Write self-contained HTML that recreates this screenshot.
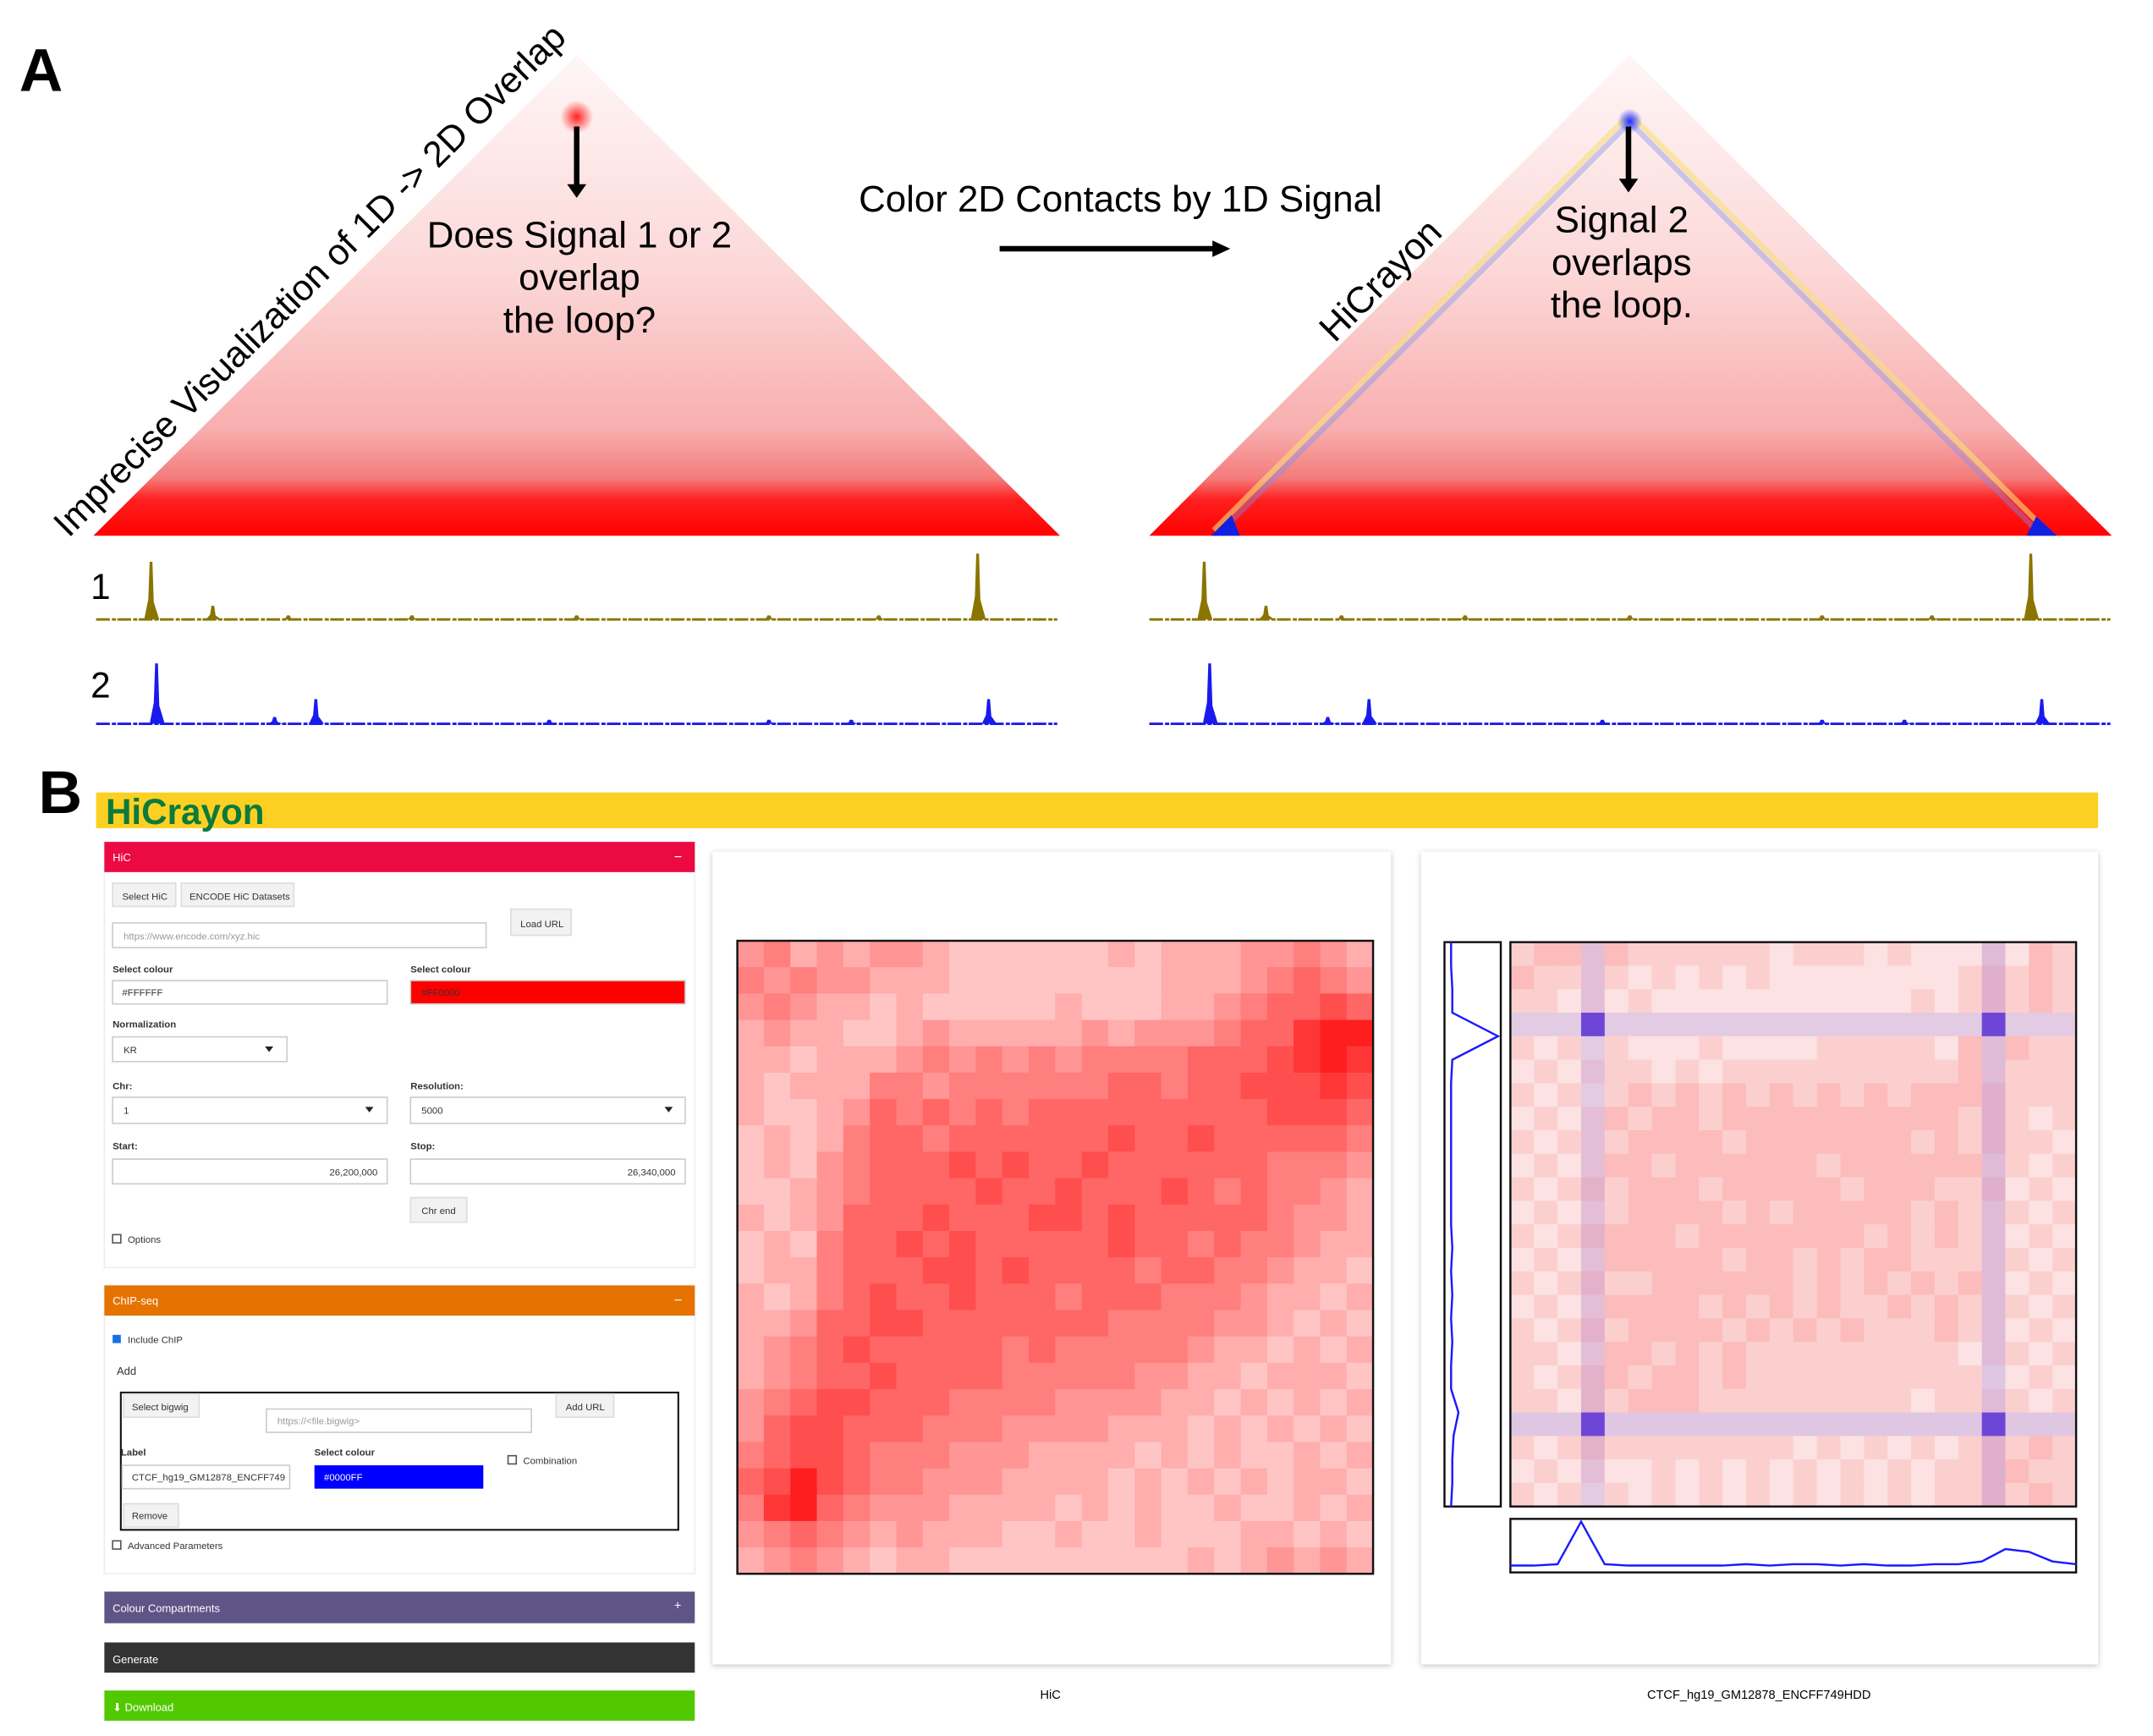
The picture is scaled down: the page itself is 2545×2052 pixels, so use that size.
<!DOCTYPE html>
<html><head><meta charset="utf-8"><style>
html,body{margin:0;padding:0;background:#fff}
svg{display:block;font-family:"Liberation Sans",sans-serif}
</style></head><body>
<svg id="fig" width="2545" height="2052" viewBox="0 0 1568 1264" xmlns="http://www.w3.org/2000/svg">
<defs>
<linearGradient id="tri" x1="0" y1="0" x2="0" y2="1">
<stop offset="0" stop-color="#fff6f6"/><stop offset="0.45" stop-color="#fcd8d8"/><stop offset="0.78" stop-color="#f8aeae"/><stop offset="0.88" stop-color="#f47c7c"/><stop offset="0.925" stop-color="#ff2020"/><stop offset="1" stop-color="#ff0000"/>
</linearGradient>
<radialGradient id="spotR"><stop offset="0" stop-color="#ff2020"/><stop offset="1" stop-color="#ff2020" stop-opacity="0"/></radialGradient>
<radialGradient id="spotB"><stop offset="0" stop-color="#2030ff"/><stop offset="1" stop-color="#2030ff" stop-opacity="0"/></radialGradient>
<filter id="sh" x="-5%" y="-5%" width="110%" height="110%"><feDropShadow dx="0" dy="1" stdDeviation="2" flood-opacity="0.25"/></filter>
</defs>

<!-- Panel A -->
<text x="14" y="66" font-size="44" font-weight="bold">A</text>
<polygon points="68,390 420,40 772,390" fill="url(#tri)"/>
<circle cx="420" cy="85" r="12" fill="url(#spotR)"/>
<text transform="translate(50,392) rotate(-45)" font-size="26.5">Imprecise Visualization of 1D -&gt; 2D Overlap</text>
<line x1="420" y1="92" x2="420" y2="138" stroke="#000" stroke-width="4"/>
<polygon points="413,134 427,134 420,144" fill="#000"/>
<g font-size="27" text-anchor="middle">
<text x="422" y="180">Does Signal 1 or 2</text><text x="422" y="211">overlap</text><text x="422" y="242">the loop?</text></g>
<text x="816" y="154" font-size="27" text-anchor="middle">Color 2D Contacts by 1D Signal</text>
<line x1="728" y1="181" x2="885" y2="181" stroke="#000" stroke-width="4"/>
<polygon points="883,175 896,181 883,187" fill="#000"/>

<polygon points="837,390 1187,40 1538,390" fill="url(#tri)"/>
<line x1="884" y1="386" x2="1184" y2="86" stroke="#f5e27a" stroke-width="4" opacity="0.6"/>
<line x1="889" y1="387" x2="1187" y2="89" stroke="#8090f0" stroke-width="4" opacity="0.4"/>
<line x1="1190" y1="86" x2="1490" y2="386" stroke="#f5e27a" stroke-width="4" opacity="0.6"/>
<line x1="1187" y1="89" x2="1484" y2="387" stroke="#8090f0" stroke-width="4" opacity="0.4"/>
<polygon points="882,390 897,375 903,390" fill="#1020e0"/>
<polygon points="1476,390 1483,376 1498,390" fill="#1020e0"/>
<circle cx="1187" cy="88" r="9" fill="url(#spotB)"/>
<text transform="translate(972,250) rotate(-45)" font-size="27">HiCrayon</text>
<line x1="1186" y1="92" x2="1186" y2="134" stroke="#000" stroke-width="4"/>
<polygon points="1179,130 1193,130 1186,140" fill="#000"/>
<g font-size="27" text-anchor="middle">
<text x="1181" y="169">Signal 2</text><text x="1181" y="200">overlaps</text><text x="1181" y="231">the loop.</text></g>

<text x="66" y="436" font-size="26">1</text>
<text x="66" y="508" font-size="26">2</text>
<g id="tracks"></g>

<!-- Panel B -->
<text x="28" y="592" font-size="44" font-weight="bold">B</text>
<rect x="70" y="577" width="1458" height="26" fill="#fcd022"/>
<text x="77" y="600" font-size="26" font-weight="bold" fill="#0b7a3c">HiCrayon</text>

<g font-size="7" fill="#333">
<rect x="76" y="613" width="430" height="310" fill="#fff" stroke="#eee"/>
<rect x="76" y="613" width="430" height="22" fill="#ec0a42"/>
<text x="82" y="627" fill="#fff" font-size="8">HiC</text><text x="491" y="627" fill="#fff" font-size="10">−</text>
<rect x="82" y="643" width="46" height="17" fill="#f2f2f2" stroke="#ddd"/><text x="89" y="655">Select HiC</text>
<rect x="132" y="643" width="82" height="17" fill="#f2f2f2" stroke="#ddd"/><text x="138" y="655">ENCODE HiC Datasets</text>
<rect x="82" y="672" width="272" height="18" fill="#fff" stroke="#ccc"/><text x="90" y="684" fill="#999">https://www.encode.com/xyz.hic</text>
<rect x="372" y="662" width="44" height="19" fill="#f2f2f2" stroke="#ddd"/><text x="379" y="675">Load URL</text>
<text x="82" y="708" font-weight="bold">Select colour</text><text x="299" y="708" font-weight="bold">Select colour</text>
<rect x="82" y="714" width="200" height="17" fill="#fff" stroke="#ccc"/><text x="89" y="725">#FFFFFF</text>
<rect x="299" y="714" width="200" height="17" fill="#ff0000" stroke="#ccc"/><text x="307" y="725">#FF0000</text>
<text x="82" y="748" font-weight="bold">Normalization</text>
<rect x="82" y="755" width="127" height="18" fill="#fff" stroke="#ccc"/><text x="90" y="767">KR</text><polygon points="193,762 199,762 196,766" fill="#222"/>
<text x="82" y="793" font-weight="bold">Chr:</text><text x="299" y="793" font-weight="bold">Resolution:</text>
<rect x="82" y="799" width="200" height="19" fill="#fff" stroke="#ccc"/><text x="90" y="811">1</text><polygon points="266,806 272,806 269,810" fill="#222"/>
<rect x="299" y="799" width="200" height="19" fill="#fff" stroke="#ccc"/><text x="307" y="811">5000</text><polygon points="484,806 490,806 487,810" fill="#222"/>
<text x="82" y="837" font-weight="bold">Start:</text><text x="299" y="837" font-weight="bold">Stop:</text>
<rect x="82" y="844" width="200" height="18" fill="#fff" stroke="#ccc"/><text x="275" y="856" text-anchor="end">26,200,000</text>
<rect x="299" y="844" width="200" height="18" fill="#fff" stroke="#ccc"/><text x="492" y="856" text-anchor="end">26,340,000</text>
<rect x="299" y="872" width="41" height="18" fill="#f2f2f2" stroke="#ddd"/><text x="307" y="884">Chr end</text>
<rect x="82" y="899" width="6" height="6" fill="#fff" stroke="#555"/><text x="93" y="905">Options</text>

<rect x="76" y="936" width="430" height="210" fill="#fff" stroke="#eee"/>
<rect x="76" y="936" width="430" height="22" fill="#e67200"/>
<text x="82" y="950" fill="#fff" font-size="8">ChIP-seq</text><text x="491" y="950" fill="#fff" font-size="10">−</text>
<rect x="82" y="972" width="6" height="6" fill="#1a6fe0"/><text x="93" y="978">Include ChIP</text>
<text x="85" y="1001" font-size="8">Add</text>
<rect x="88" y="1014" width="406" height="100" fill="#fff" stroke="#111" stroke-width="1.3"/>
<rect x="90" y="1015" width="55" height="17" fill="#f2f2f2" stroke="#ddd"/><text x="96" y="1027">Select bigwig</text>
<rect x="194" y="1026" width="193" height="17" fill="#fff" stroke="#ccc"/><text x="202" y="1037" fill="#999">https://&lt;file.bigwig&gt;</text>
<rect x="405" y="1015" width="42" height="17" fill="#f2f2f2" stroke="#ddd"/><text x="412" y="1027">Add URL</text>
<text x="88" y="1060" font-weight="bold">Label</text><text x="229" y="1060" font-weight="bold">Select colour</text>
<rect x="89" y="1067" width="122" height="17" fill="#fff" stroke="#ccc"/><text x="96" y="1078">CTCF_hg19_GM12878_ENCFF749</text>
<rect x="229" y="1067" width="123" height="17" fill="#0000ff"/><text x="236" y="1078" fill="#fff">#0000FF</text>
<rect x="370" y="1060" width="6" height="6" fill="#fff" stroke="#555"/><text x="381" y="1066">Combination</text>
<rect x="90" y="1095" width="40" height="17" fill="#f2f2f2" stroke="#ddd"/><text x="96" y="1106">Remove</text>
<rect x="82" y="1122" width="6" height="6" fill="#fff" stroke="#555"/><text x="93" y="1128">Advanced Parameters</text>

<rect x="76" y="1159" width="430" height="23" fill="#5e5485"/>
<text x="82" y="1174" fill="#fff" font-size="8">Colour Compartments</text><text x="491" y="1172" fill="#fff" font-size="9">+</text>
<rect x="76" y="1196" width="430" height="22" fill="#333"/>
<text x="82" y="1211" fill="#fff" font-size="8">Generate</text>
<rect x="76" y="1231" width="430" height="22" fill="#52c800"/>
<text x="82" y="1246" fill="#fff" font-size="8">⬇ Download</text>
</g>

<rect x="519" y="620" width="494" height="592" fill="#fff" filter="url(#sh)"/>
<rect x="1035" y="620" width="493" height="592" fill="#fff" filter="url(#sh)"/>
<g id="hmL"></g><g id="hmR"></g>
<rect x="537" y="685" width="463" height="461" fill="none" stroke="#111" stroke-width="1.5"/>
<rect x="1100" y="686" width="412" height="411" fill="none" stroke="#111" stroke-width="1.5"/>
<rect x="1052" y="686" width="41" height="411" fill="#fff" stroke="#111" stroke-width="1.5"/>
<rect x="1100" y="1106" width="412" height="39" fill="#fff" stroke="#111" stroke-width="1.5"/>
<polyline id="vsig" fill="none" stroke="#1a1aff" stroke-width="1.5"/>
<polyline id="hsig" fill="none" stroke="#1a1aff" stroke-width="1.5"/>
<text x="765" y="1237" font-size="9" text-anchor="middle">HiC</text>
<text x="1281" y="1237" font-size="9" text-anchor="middle">CTCF_hg19_GM12878_ENCFF749HDD</text>
</svg>
<script>
const NS='http://www.w3.org/2000/svg';
const hicRows=["453434432222223233344543","545443332222222233345654","454332322222322233456676","343322343333343444566899","332333454545455556667898","323335545555556656677787","322346565656666666667776","232356656666667667666665","232456667676676666665554","223456666766766676565543","323466676667767666665443","232566767666667665655433","233566677676666566554332","323567667666566655543323","334667766666665555443232","345676666656555554332323","345667666655555443323332","456776665555444433232323","467766655544443332323232","567765554443333232322323","679765544433332323232332","589654443333232322322323","456543433322322322233232","345432332222222223234343"];
const chipRows=["233232222221222121112132","322221212121111111123232","221212111111111112123232","111111111111111111111111","212121112111122222132322","121222121222222222232222","212123232323232323333222","121232332333333333323212","212223333233333332323221","121233233333323333332212","212323332333332333223121","121223333232333332322212","212333323333333232322121","121233333233232332222212","212322333333232323232121","121233332323232232322212","212323333232323222322121","221233232322222222212212","212332332322222222221121","221323332222222221222212","111111111111111111111111","212322222222121212123232","121211212121212121223322","212121212121212121223232"];
const blueRows=[3,20], blueCols=[3,20];
const blueStrength=[0.3,0.35];
const track1Peaks=[[110,42],[155,10],[210,3],[300,3],[420,3],[560,3],[640,3],[712,48]];
const track2Peaks=[[114,44],[200,5],[230,18],[400,3],[560,3],[620,3],[720,18]];
const panelOffsets=[0,767];
const vSignal=[2,2,3,3,40,3,2,2,2,2,2,2,2,3,2,3,2,3,2,2,8,4,3,3,2];
const hSignal=[2,2,3,34,3,2,2,2,2,2,3,2,3,3,2,3,2,2,3,3,5,14,12,5,3];

function mk(tag,attrs,parent){const e=document.createElementNS(NS,tag);for(const k in attrs)e.setAttribute(k,attrs[k]);parent.appendChild(e);return e;}
const gL=document.getElementById('hmL');
const xL=c=>537+c*463/24, yL=r=>685+r*461/24;
hicRows.forEach((row,r)=>{[...row].forEach((ch,c)=>{const t=(+ch)/9;const g=Math.round(245-215*t);
const el=mk('rect',{x:xL(c),y:yL(r),width:463/24+0.5,height:461/24+0.5,fill:`rgb(255,${g},${g})`},gL);

});});
const gR=document.getElementById('hmR');
const xR=c=>1100+c*412/24, yR=r=>686+r*411/24;
chipRows.forEach((row,r)=>{[...row].forEach((ch,c)=>{const t=(+ch)/9;let R=252,G=Math.round(245-170*t),B=Math.round(245-170*t);
const bi=blueRows.indexOf(r), bj=blueCols.indexOf(c);
if(bi>=0&&bj>=0){R=110;G=70;B=215;}
else if(bi>=0||bj>=0){const s=blueStrength[bi>=0?bi:bj];R=Math.round(R*(1-s)+170*s);G=Math.round(G*(1-s)+150*s);B=Math.round(B*(1-s)+230*s);}
const el=mk('rect',{x:xR(c),y:yR(r),width:412/24+0.5,height:411/24+0.5,fill:`rgb(${R},${G},${B})`},gR);

});});
const vy=i=>686+i*411/(vSignal.length-1), vx=v=>1055+v*0.9;
document.getElementById('vsig').setAttribute('points',vSignal.map((v,i)=>vx(v)+','+vy(i)).join(' '));
const hx=i=>1100+i*412/(hSignal.length-1), hy=v=>1142-v*1.0;
document.getElementById('hsig').setAttribute('points',hSignal.map((v,i)=>hx(i)+','+hy(v)).join(' '));
const gT=document.getElementById('tracks');
function track(peaks,base,color,off,name){
 const ln=mk('line',{x1:70+off,x2:770+off,y1:base,y2:base,stroke:color,'stroke-width':1.8,'stroke-dasharray':'10 1.5 3 1'},gT);
 
 
 peaks.forEach(([x,h])=>{const px=x+off;
  const p=mk('polygon',{points:`${px-5},${base} ${px-2},${base-h*0.35} ${px-1},${base-h} ${px+1},${base-h} ${px+2},${base-h*0.3} ${px+6},${base}`,fill:color},gT);
  
  });
}
panelOffsets.forEach((o,i)=>{track(track1Peaks,451,'#8a7500',o,'signal-1-track');track(track2Peaks,527,'#1a1aee',o,'signal-2-track');});
</script>
</body></html>
